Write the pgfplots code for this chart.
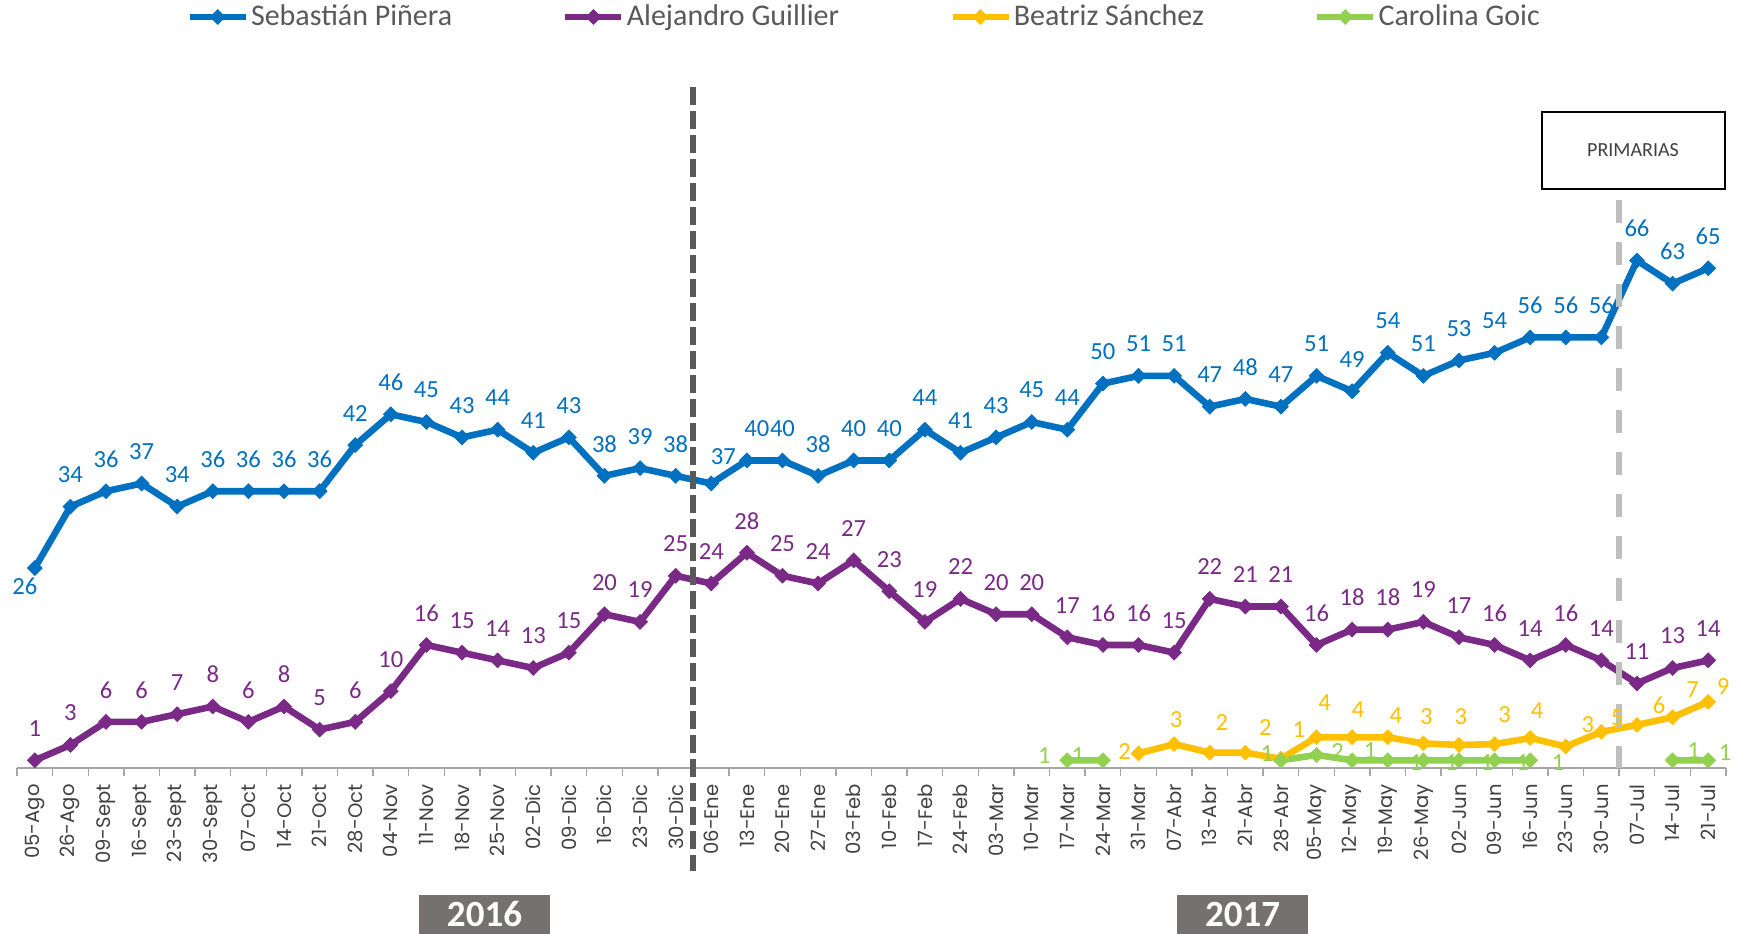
\documentclass[border=0pt]{standalone}
\usepackage{fontspec}
\setmainfont{Carlito}
\newfontfamily\tickfont{Poppins}
\usepackage{pgfplots}
\pgfplotsset{compat=1.18}
\usepackage{pgfplotstable}

\definecolor{cPin}{HTML}{0070C0}
\definecolor{cGui}{HTML}{7A2A86}
\definecolor{cSan}{HTML}{FFC000}
\definecolor{cGoi}{HTML}{92D050}
\definecolor{legtext}{HTML}{595959}
\definecolor{ticktext}{HTML}{404040}
\definecolor{axgray}{HTML}{A6A6A6}
\definecolor{darkdash}{HTML}{595959}
\definecolor{lightdash}{HTML}{BFBFBF}
\definecolor{yearbox}{HTML}{767171}

% x = week index, y = value, dx/dy = label offset (pt)
\pgfplotstableread{
x y dx dy
1 26 -5 -9
2 34 0 16
3 36 0 16
4 37 0 16
5 34 0 16
6 36 0 16
7 36 0 16
8 36 0 16
9 36 0 16
10 42 0 16
11 46 0 16
12 45 0 16
13 43 0 16
14 44 0 16
15 41 0 16
16 43 0 16
17 38 0 16
18 39 0 16
19 38 0 16
20 37 6 13.5
21 40 5 16
22 40 0 16
23 38 0 16
24 40 0 16
25 40 0 16
26 44 0 16
27 41 0 16
28 43 0 16
29 45 0 16
30 44 0 16
31 50 0 16
32 51 0 16
33 51 0 16
34 47 0 16
35 48 0 16
36 47 0 16
37 51 0 16
38 49 0 16
39 54 0 16
40 51 0 16
41 53 0 16
42 54 0 16
43 56 0 16
44 56 0 16
45 56 0 16
46 66 0 16
47 63 0 16
48 65 0 16
}\pinera

\pgfplotstableread{
x y dx dy
1 1 0 16
2 3 0 16
3 6 0 16
4 6 0 16
5 7 0 16
6 8 0 16
7 6 0 16
8 8 0 16
9 5 0 16
10 6 0 16
11 10 0 16
12 16 0 16
13 15 0 16
14 14 0 16
15 13 0 16
16 15 0 16
17 20 0 16
18 19 0 16
19 25 0 16
20 24 0 16
21 28 0 16
22 25 0 16
23 24 0 16
24 27 0 16
25 23 0 16
26 19 0 16
27 22 0 16
28 20 0 16
29 20 0 16
30 17 0 16
31 16 0 16
32 16 0 16
33 15 0 16
34 22 0 16
35 21 0 16
36 21 0 16
37 16 0 16
38 18 0 16
39 18 0 16
40 19 0 16
41 17 0 16
42 16 0 16
43 14 0 16
44 16 0 16
45 14 0 16
46 11 0 16
47 13 0 16
48 14 0 16
}\guillier

\pgfplotstableread{
x y dx dy
32 1.9 -7 1
33 3.1 1 12.5
34 2 6 15
35 2 10 12.5
36 1.2 9 14.5
37 4 4 17.5
38 4 3 14
39 4 4 11
40 3.2 1.5 13.5
41 3 1 14
42 3.1 5 15
43 3.9 3.5 13.5
44 2.8 11 11
45 4.7 8 7
46 5.6 11 10
47 6.6 10 14
48 8.6 7.5 7.5
}\sanchez

\pgfplotstableread{
x y dx dy
30 1 -11.5 2.5
31 1 -12.5 2.5
33 nan 0 0
36 1 -7 3.5
37 1.7 10.5 1.5
38 1 9 5
39 1 14 -1
40 1 14 -1
41 1 14 -1
42 1 14 -1
43 1 14 -1
44 nan 0 0
47 1 10.5 5
48 1 8.5 4
}\goic

\pgfplotsset{
  labels/.style={draw=none, mark=none, forget plot,
    nodes near coords={\pgfmathprintnumber[fixed,precision=0,assume math mode=true]{\pgfplotspointmeta}},
    visualization depends on={\thisrow{dx} \as \lx},
    visualization depends on={\thisrow{dy} \as \ly},
    nodes near coords style={anchor=center, inner sep=0pt, text=#1,
      font=\fontsize{12.3}{14}\selectfont, xshift=\lx pt, yshift=\ly pt}},
  series/.style={color=#1, line width=3.3pt, mark=square*,
    mark options={solid, rotate=45, line width=0.4pt}, mark size=2.6pt},
}

\begin{document}
\begin{tikzpicture}
\path[use as bounding box] (0,0) rectangle (870.5pt,466.5pt);
\begin{axis}[
  at={(8.5pt,82.5pt)}, anchor=south west,
  scale only axis, width=854.5pt, height=346pt,
  xmin=0.5, xmax=48.5, ymin=0, ymax=90,
  clip=false, enlargelimits=false,
  axis x line=bottom, axis y line=none,
  axis line style={-, draw=axgray, line width=0.7pt},
  ytick=\empty,
  xtick={1,...,48},
  xticklabels={05-Ago,26-Ago,09-Sept,16-Sept,23-Sept,30-Sept,07-Oct,14-Oct,21-Oct,28-Oct,
    04-Nov,11-Nov,18-Nov,25-Nov,02-Dic,09-Dic,16-Dic,23-Dic,30-Dic,06-Ene,13-Ene,20-Ene,
    27-Ene,03-Feb,10-Feb,17-Feb,24-Feb,03-Mar,10-Mar,17-Mar,24-Mar,31-Mar,07-Abr,13-Abr,
    21-Abr,28-Abr,05-May,12-May,19-May,26-May,02-Jun,09-Jun,16-Jun,23-Jun,30-Jun,07-Jul,
    14-Jul,21-Jul},
  minor xtick={0.5,1.5,...,48.5},
  major tick length=0pt, minor tick length=4pt,
  tick align=outside,
  minor tick style={draw=axgray, line width=0.7pt},
  xticklabel shift=8pt,
  xticklabel style={rotate=90, anchor=east, inner sep=0pt,
    font=\tickfont\fontsize{9.8}{11}\selectfont, text=ticktext},
  unbounded coords=jump,
  legend columns=4,
  legend cell align=left,
  legend image code/.code={\draw[#1, mark repeat=2, mark phase=2]
    plot coordinates {(0pt,0pt) (14pt,0pt) (28pt,0pt)};},
  legend style={at={(axis description cs:0.0989,1.0853)}, anchor=west,
    draw=none, fill=none, inner sep=0pt,
    font=\fontsize{15}{18}\selectfont, text=legtext,
    nodes={inner sep=1pt},
    /tikz/every even column/.append style={column sep=54pt}},
]
\addplot[series=cPin] table[x=x,y=y] {\pinera};
\addlegendentry{Sebastián Piñera}
\addplot[series=cGui] table[x=x,y=y] {\guillier};
\addlegendentry{Alejandro Guillier}
\addplot[series=cSan] table[x=x,y=y] {\sanchez};
\addlegendentry{Beatriz Sánchez}
\addplot[series=cGoi] table[x=x,y=y] {\goic};
\addlegendentry{Carolina Goic}

\addplot[labels=cPin] table[x=x,y=y] {\pinera};
\addplot[labels=cGui] table[x=x,y=y] {\guillier};
\addplot[labels=cSan] table[x=x,y=y] {\sanchez};
\addplot[labels=cGoi] table[x=x,y=y] {\goic};

\draw[darkdash, line width=3pt, dash pattern=on 9pt off 3pt]
  (axis cs:19.5,88.6) -- (axis cs:19.5,-13.4);
\draw[lightdash, line width=3pt, dash pattern=on 11.5pt off 9.5pt]
  (axis cs:45.5,73.9) -- (axis cs:45.5,0);
\end{axis}

% annotation boxes
\draw[black, line width=1pt, fill=white] (771pt,372pt) rectangle (862.5pt,410.5pt);
\node[text=ticktext, font=\fontsize{10}{12}\selectfont] at (816.5pt,391.5pt) {PRIMARIAS};
\fill[yearbox] (209.5pt,-5pt) rectangle (275pt,19pt);
\node[text=white, font=\bfseries\fontsize{18.5}{20}\selectfont] at (242.25pt,9.5pt) {2016};
\fill[yearbox] (588.5pt,-5pt) rectangle (654pt,19pt);
\node[text=white, font=\bfseries\fontsize{18.5}{20}\selectfont] at (621.25pt,9.5pt) {2017};
\end{tikzpicture}
\end{document}
